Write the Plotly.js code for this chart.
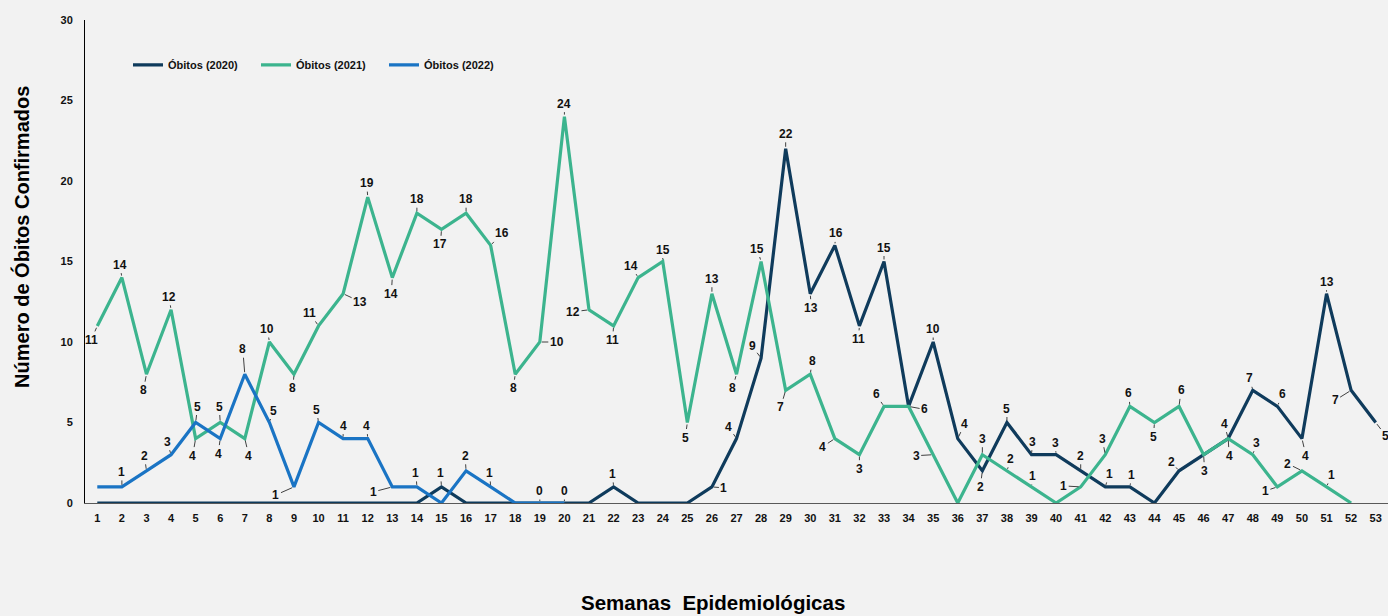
<!DOCTYPE html>
<html>
<head>
<meta charset="utf-8">
<script src="https://cdn.plot.ly/plotly-3.0.1.min.js"></script>
<style>
  html, body { margin: 0; padding: 0; background: #f2f2f2; }
  #chart { width: 1388px; height: 616px; }
</style>
</head>
<body>
<div id="chart"></div>
<script>
// ---- data ----
const weeks = Array.from({length: 53}, (_, i) => i + 1);
const seriesNames = ['Óbitos (2020)', 'Óbitos (2021)', 'Óbitos (2022)'];
const obitos2020 = [0,0,0,0,0,0,0,0,0,0,0,0,0,0,1,0,0,0,0,0,0,1,0,0,0,1,4,9,22,13,16,11,15,6,10,4,2,5,3,3,2,1,1,0,2,3,4,7,6,4,13,7,5];
const obitos2021 = [11,14,8,12,4,5,4,10,8,11,13,19,14,18,17,18,16,8,10,24,12,11,14,15,5,13,8,15,7,8,4,3,6,6,3,0,3,2,1,0,1,3,6,5,6,3,4,3,1,2,1,0];
const obitos2022 = [1,1,2,3,5,4,8,5,1,5,4,4,1,1,0,2,1,0,0,0];
const yTicks = [0,5,10,15,20,25,30];
const xTitle = 'Semanas  Epidemiológicas';
const yTitle = 'Número de Óbitos Confirmados';

// ---- label placement (pixel offsets of each data label; null = no label) ----
const off2020 = [null,null,null,null,null,null,null,null,null,null,null,null,null,null,[-1,-14],null,null,null,null,null,null,[-1,-13],null,null,null,[12,1],[-8,-12],[-9,-12],[0,-15],[1,14],[1,-12],[-1,13],[0,-14],[16,3],[0,-13],[7,-15],[-2,16],[0,-14],[1,-13],[-1,-12],[0,-15],[4,-13],[2,-12],null,[-8,-9],null,[-4,-15],[-3,-12],[5,-12],[4,17],[0,-12],[-16,10],[10,13]];
const off2021 = [[-6,14],[-2,-13],[-3,16],[-2,-13],[-3,17],[-1,-16],[4,17],[-2,-13],[-1,14],[-9,-13],[17,8],[-1,-14],[-1,16],[0,-14],[-1,15],[0,-14],[11,-12],[-2,14],[17,0],[0,-13],[-16,2],[-1,14],[-7,-12],[0,-12],[-2,15],[0,-15],[-4,14],[-4,-13],[-5,17],[2,-13],[-12,8],[0,14],[-8,-12],null,[-17,1],null,[0,-16],[4,-12],[1,-11],null,[-17,-1],[-3,-16],[-1,-13],[-1,14],[2,-16],[1,16],[1,17],[4,-12],[-12,4],[-14,-7],[5,-12],null];
const off2022 = [null,[0,-15],[-2,-15],[-4,-13],[2,-16],[-2,15],[-2,-25],[4,-12],[-18,8],[-2,-13],[0,-13],[-1,-13],[-19,5],[-1,-14],null,[-1,-15],[-1,-14],null,[0,-12],[0,-12]];

const colors = ['#0f3b5c', '#3cb48e', '#1a74c4'];
const values = [obitos2020, obitos2021, obitos2022];
const offsets = [off2020, off2021, off2022];

const FONT = 'Liberation Sans, Arial, sans-serif';

const traces = values.map((v, i) => ({
  type: 'scatter',
  mode: 'lines',
  name: seriesNames[i],
  x: weeks.slice(0, v.length),
  y: v,
  line: {color: colors[i], width: 3.2},
  hoverinfo: 'x+y+name'
}));

const annotations = [];
values.forEach((v, i) => {
  v.forEach((val, j) => {
    const o = offsets[i][j];
    if (!o) return;
    annotations.push({
      x: weeks[j], y: val, xref: 'x', yref: 'y',
      text: String(val),
      showarrow: true, arrowhead: 0, arrowwidth: 1, arrowcolor: '#404040',
      standoff: 2, startstandoff: 0,
      ax: o[0], ay: o[1],
      font: {family: FONT, size: 12, color: '#111', weight: 700}
    });
  });
});

// axis titles (placed as in the original, slightly off-centre)
annotations.push({
  text: xTitle, xref: 'paper', yref: 'paper', x: 0.482, y: -0.207,
  xanchor: 'center', yanchor: 'middle', showarrow: false,
  font: {family: FONT, size: 20.5, color: '#000', weight: 700}
});
annotations.push({
  text: yTitle, xref: 'paper', yref: 'paper', x: -0.0483, y: 0.551,
  xanchor: 'center', yanchor: 'middle', showarrow: false, textangle: -90,
  font: {family: FONT, size: 20, color: '#000', weight: 700}
});

const layout = {
  width: 1388, height: 616,
  margin: {l: 85, r: 0, t: 20, b: 113},
  paper_bgcolor: '#f2f2f2',
  plot_bgcolor: '#f2f2f2',
  showlegend: true,
  legend: {
    orientation: 'h', x: 0.033, y: 0.907, xanchor: 'left', yanchor: 'middle',
    bgcolor: 'rgba(0,0,0,0)',
    font: {family: FONT, size: 11, color: '#111', weight: 700},
    entrywidth: 83, entrywidthmode: 'pixels', itemclick: false
  },
  xaxis: {
    range: [0.5, 53.5],
    tickmode: 'array', tickvals: weeks, ticktext: weeks.map(String),
    showgrid: false, zeroline: false,
    showline: true, linecolor: '#595959', linewidth: 1,
    ticks: '', ticklen: 0, ticklabelstandoff: 5,
    tickfont: {family: FONT, size: 11, color: '#111', weight: 700}
  },
  yaxis: {
    range: [0, 30],
    tickmode: 'array', tickvals: yTicks,
    showgrid: false, zeroline: false,
    showline: true, linecolor: '#000', linewidth: 1,
    ticks: '', ticklen: 0, ticklabelstandoff: 9,
    tickfont: {family: FONT, size: 11, color: '#111', weight: 700}
  },
  annotations: annotations
};

Plotly.newPlot('chart', traces, layout, {displayModeBar: false});
</script>
</body>
</html>
